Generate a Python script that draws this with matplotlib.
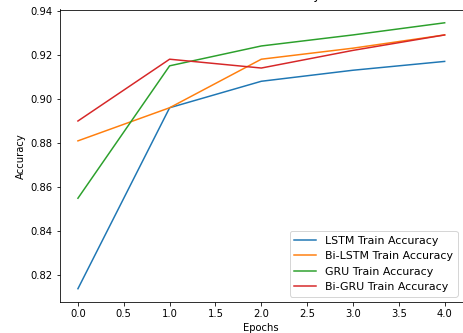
import matplotlib
matplotlib.use("Agg")
import matplotlib.pyplot as plt

# Epochs and train accuracy per model
epochs = [0, 1, 2, 3, 4]
lstm_acc = [0.814, 0.896, 0.908, 0.913, 0.917]
bilstm_acc = [0.881, 0.896, 0.918, 0.923, 0.929]
gru_acc = [0.855, 0.915, 0.924, 0.929, 0.9345]
bigru_acc = [0.890, 0.918, 0.914, 0.922, 0.929]

fig = plt.figure(figsize=(463 / 72, 333 / 72), dpi=72)
ax = fig.add_axes([59.6 / 463, 1 - 302 / 333, 1 - 59.6 / 463, (302 - 9.5) / 333])

ax.plot(epochs, lstm_acc, label='LSTM Train Accuracy')
ax.plot(epochs, bilstm_acc, label='Bi-LSTM Train Accuracy')
ax.plot(epochs, gru_acc, label='GRU Train Accuracy')
ax.plot(epochs, bigru_acc, label='Bi-GRU Train Accuracy')

# titulo casi fuera de la imagen (recortado en la referencia)
ax.set_title('(a) Models Train Accuracy Trend', fontsize=12, pad=10)
ax.set_xlabel('Epochs')
ax.set_ylabel('Accuracy')
ax.legend(loc='lower right', fontsize=11)

fig.savefig('out.png', dpi=72)
